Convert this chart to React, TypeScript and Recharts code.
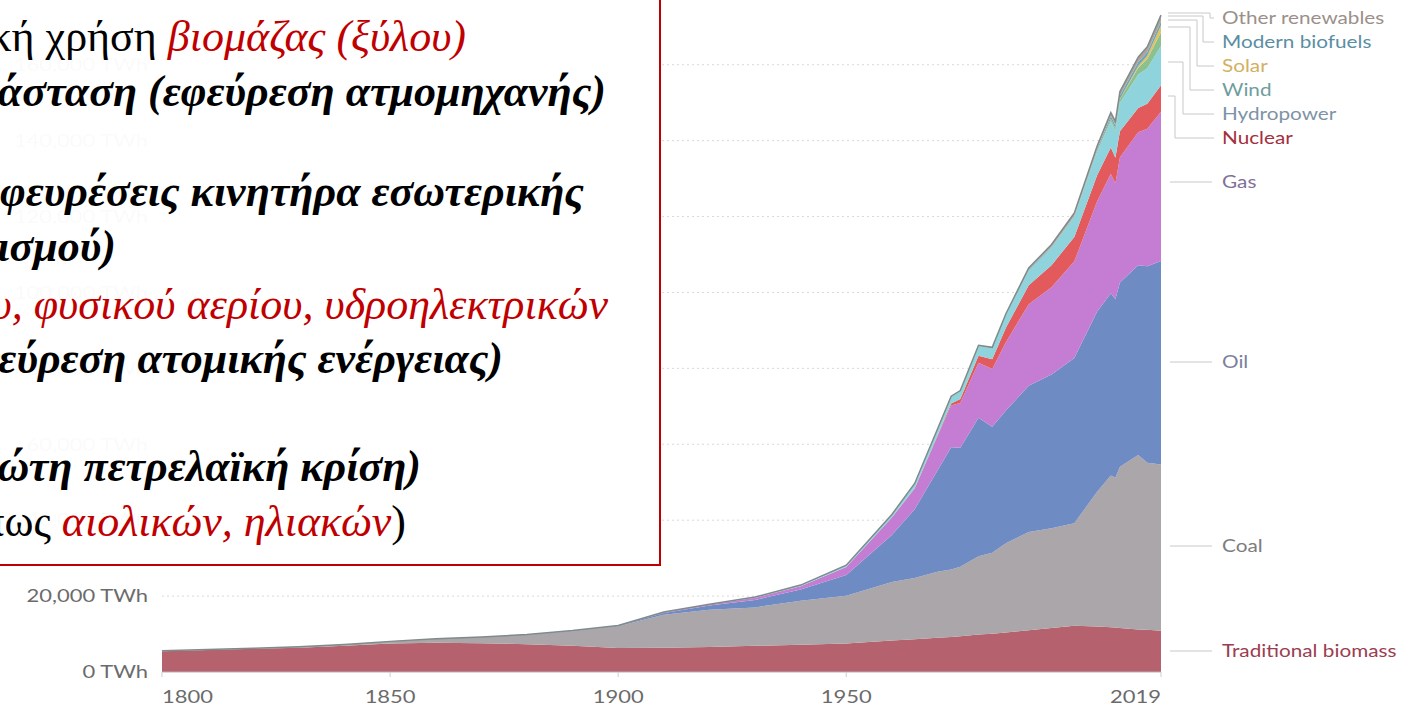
import { AreaChart, Area, XAxis, YAxis, CartesianGrid } from "recharts";

const years = [
  1800, 1810, 1820, 1830, 1840, 1850, 1860, 1870, 1880, 1890, 1900, 1910, 1920, 1930, 1940, 1950, 1960,
  1965, 1970, 1973, 1975, 1979, 1982, 1985, 1990, 1995, 2000, 2005, 2008, 2009, 2010, 2014, 2016, 2019,
];

const biomass = [
  5500, 5800, 6100, 6400, 6900, 7500, 7700, 7600, 7300, 6900, 6300, 6400, 6600, 6900, 7200, 7500, 8300,
  8600, 9000, 9200, 9400, 9900, 10100, 10400, 11000, 11600, 12200, 12000, 11800, 11700, 11600, 11200, 11100, 10900,
];
const coal = [
  97, 128, 153, 264, 356, 569, 1061, 1642, 2542, 3856, 5728, 8656, 9833, 10125, 11586, 12603, 15442,
  16140, 17409, 17800, 18300, 20600, 21300, 23500, 25900, 26300, 27000, 35500, 40000, 39500, 42500, 46000, 44000, 43800,
];
const oil = [
  0, 0, 0, 0, 0, 0, 0, 6, 33, 89, 181, 514, 1097, 1956, 2942, 5444, 12364,
  18109, 26708, 32200, 31400, 36500, 33200, 35000, 38500, 40500, 43500, 47500, 48000, 47000, 48500, 50000, 51800, 53600,
];
const gas = [
  0, 0, 0, 0, 0, 0, 0, 0, 0, 70, 64, 161, 233, 553, 869, 2092, 4600,
  5500, 9000, 11000, 11800, 14500, 15200, 18000, 21500, 23000, 25500, 29000, 31500, 30500, 33000, 35000, 36200, 39300,
];
const nuclear = [
  0, 0, 0, 0, 0, 0, 0, 0, 0, 0, 0, 0, 0, 0, 0, 0, 0,
  70, 220, 550, 1000, 1800, 2600, 3800, 5000, 5800, 6400, 6900, 6900, 6800, 6900, 6400, 6600, 7000,
];
const hydro = [
  0, 0, 0, 0, 0, 0, 0, 0, 0, 0, 0, 50, 100, 200, 300, 500, 800,
  1200, 1600, 1800, 2100, 2600, 2900, 3300, 3900, 4600, 5300, 6100, 6900, 7000, 7500, 8800, 9400, 10400,
];
const wind = [
  0, 0, 0, 0, 0, 0, 0, 0, 0, 0, 0, 0, 0, 0, 0, 0, 0,
  0, 0, 0, 0, 0, 0, 0, 10, 20, 80, 270, 570, 720, 900, 1800, 2400, 3540,
];
const solar = [
  0, 0, 0, 0, 0, 0, 0, 0, 0, 0, 0, 0, 0, 0, 0, 0, 0,
  0, 0, 0, 0, 0, 0, 0, 0, 0, 2, 10, 40, 60, 90, 490, 850, 1790,
];
const biofuels = [
  0, 0, 0, 0, 0, 0, 0, 0, 0, 0, 0, 0, 0, 0, 0, 0, 0,
  0, 0, 0, 0, 0, 0, 100, 200, 250, 250, 450, 750, 820, 900, 1000, 1000, 1119,
];
const otherRen = [
  0, 0, 0, 0, 0, 0, 0, 0, 0, 0, 0, 0, 0, 0, 0, 0, 0,
  50, 100, 130, 150, 200, 250, 300, 450, 550, 700, 850, 950, 1000, 1050, 1300, 1400, 1614,
];

const yTicks = [0, 20000, 40000, 60000, 80000, 100000, 120000, 140000, 160000];
const xTicks = [1800, 1850, 1900, 1950, 2019];

const series = [
  { key: "biomass", name: "Traditional biomass", color: "#b6626e", label: "#9c3d50" },
  { key: "coal", name: "Coal", color: "#aaa6a9", label: "#7d7d7d" },
  { key: "oil", name: "Oil", color: "#6f8bc4", label: "#7a7f9e" },
  { key: "gas", name: "Gas", color: "#c47dd2", label: "#7f7199" },
  { key: "nuclear", name: "Nuclear", color: "#e25a5c", label: "#a3303e" },
  { key: "hydro", name: "Hydropower", color: "#8fd3dc", label: "#7d93a6" },
  { key: "wind", name: "Wind", color: "#8cc08f", label: "#6f9d9d" },
  { key: "solar", name: "Solar", color: "#e3c25e", label: "#d2b061" },
  { key: "biofuels", name: "Modern biofuels", color: "#6ea8b8", label: "#5a8ea2" },
  { key: "otherRen", name: "Other renewables", color: "#b0a29a", label: "#9c8f8a" },
];

const rows = years.map((year, i) => ({
  year,
  biomass: biomass[i],
  coal: coal[i],
  oil: oil[i],
  gas: gas[i],
  nuclear: nuclear[i],
  hydro: hydro[i],
  wind: wind[i],
  solar: solar[i],
  biofuels: biofuels[i],
  otherRen: otherRen[i],
}));

// end labels on the right, with their leader lines
const endLabels = [
  { name: "Other renewables", y: 18, path: "M1168 13 H1210 V18 H1214" },
  { name: "Modern biofuels", y: 42, path: "M1168 16 H1203 V42 H1214" },
  { name: "Solar", y: 66, path: "M1168 20 H1197 V66 H1214" },
  { name: "Wind", y: 90, path: "M1168 27 H1190 V90 H1214" },
  { name: "Hydropower", y: 114, path: "M1168 62 H1183 V114 H1214" },
  { name: "Nuclear", y: 138, path: "M1168 96 H1175 V138 H1214" },
  { name: "Gas", y: 182, path: "M1170 182 H1212" },
  { name: "Oil", y: 362, path: "M1170 362 H1212" },
  { name: "Coal", y: 546, path: "M1170 546 H1212" },
  { name: "Traditional biomass", y: 651, path: "M1170 651 H1212" },
];

// the source picture is stretched sideways, so the sans labels are widened
const stretch = 1.22;

const YearTick = (props: any) => {
  const { x, y, payload } = props;
  const v = payload.value;
  const anchor = v === 1800 ? "start" : v === 2019 ? "end" : "middle";
  return (
    <g transform={`translate(${x},${y + 24}) scale(${stretch},1)`}>
      <text x={0} y={0} textAnchor={anchor} fill="#6b6b6b" fontSize={18} fontFamily="Lato">
        {v}
      </text>
    </g>
  );
};

const ValueTick = (props: any) => {
  const { x, y, payload } = props;
  return (
    <g transform={`translate(${x},${y}) scale(${stretch},1)`}>
      <text x={0} y={0} dy="0.35em" textAnchor="end" fill="#6b6b6b" fontSize={18} fontFamily="Lato">
        {`${payload.value.toLocaleString("en-US")} TWh`}
      </text>
    </g>
  );
};

const serif = "'Liberation Serif', 'Times New Roman', serif";
const red = "#c00000";

function NoteBox() {
  return (
    <g fontFamily={serif} fontSize={44}>
      <rect x={-10} y={-10} width={670} height={575} fill="#fff" fillOpacity={0.97} stroke={red} strokeWidth={2} />
      <text x={466} y={51} textAnchor="end" fill="#000">
        Παραδοσιακή χρήση <tspan fill={red} fontStyle="italic">βιομάζας (ξύλου)</tspan>
      </text>
      <text x={606} y={106} textAnchor="end" fontStyle="italic" fontWeight="bold">
        Βιομηχανική επανάσταση (εφεύρεση ατμομηχανής)
      </text>
      <text x={584} y={206} textAnchor="end" fontStyle="italic" fontWeight="bold">
        (εφευρέσεις κινητήρα εσωτερικής
      </text>
      <text x={116} y={261} textAnchor="end" fontStyle="italic" fontWeight="bold">
        καύσης, ηλεκτρισμού)
      </text>
      <text x={608} y={319} textAnchor="end" fontStyle="italic" fill={red}>
        Χρήση πετρελαίου, φυσικού αερίου, υδροηλεκτρικών
      </text>
      <text x={503} y={373} textAnchor="end" fontStyle="italic" fontWeight="bold">
        (εφεύρεση ατομικής ενέργειας)
      </text>
      <text x={421} y={481} textAnchor="end" fontStyle="italic" fontWeight="bold">
        1973 (πρώτη πετρελαϊκή κρίση)
      </text>
      <text x={406} y={536} textAnchor="end">
        Ανανεώσιμες πηγές (όπως <tspan fill={red} fontStyle="italic">αιολικών, ηλιακών</tspan>)
      </text>
    </g>
  );
}

export default function App() {
  return (
    <div
      style={{
        position: "absolute",
        left: 0,
        top: 0,
        width: 1414,
        height: 715,
        overflow: "hidden",
        background: "#fff",
      }}
    >
      <AreaChart width={1414} height={715} data={rows} margin={{ top: 4, right: 253, bottom: 13, left: 12 }}>
        <CartesianGrid
          vertical={false}
          horizontalValues={yTicks.filter((t) => t > 0)}
          stroke="#d9d9d9"
          strokeDasharray="2 3"
        />
        <XAxis
          dataKey="year"
          type="number"
          domain={[1800, 2019]}
          ticks={xTicks}
          height={30}
          tick={<YearTick />}
          tickSize={5}
          axisLine={{ stroke: "#b5b5b5" }}
          tickLine={{ stroke: "#cfcfcf" }}
        />
        <YAxis
          type="number"
          domain={[0, 176000]}
          ticks={yTicks}
          width={150}
          tickSize={0}
          tickMargin={14}
          axisLine={false}
          tick={<ValueTick />}
        />
        {series.map((s, i) => (
          <Area
            key={s.key}
            type="linear"
            dataKey={s.key}
            name={s.name}
            stackId="energy"
            fill={s.color}
            fillOpacity={1}
            stroke={i === series.length - 1 ? "#7f8b8b" : "none"}
            strokeWidth={1.5}
            isAnimationActive={false}
          />
        ))}
      </AreaChart>
      <svg
        width={1414}
        height={715}
        style={{ position: "absolute", left: 0, top: 0, pointerEvents: "none" }}
      >
        <NoteBox />
        {endLabels.map((l) => {
          const s = series.find((d) => d.name === l.name)!;
          return (
            <g key={l.name}>
              <path d={l.path} fill="none" stroke="#c8c8c8" strokeWidth={1} />
              <g transform={`translate(1222,${l.y}) scale(${stretch},1)`}>
                <text x={0} y={0} dy="0.35em" fill={s.label} fontSize={17} fontFamily="Lato">
                  {l.name}
                </text>
              </g>
            </g>
          );
        })}
      </svg>
    </div>
  );
}
